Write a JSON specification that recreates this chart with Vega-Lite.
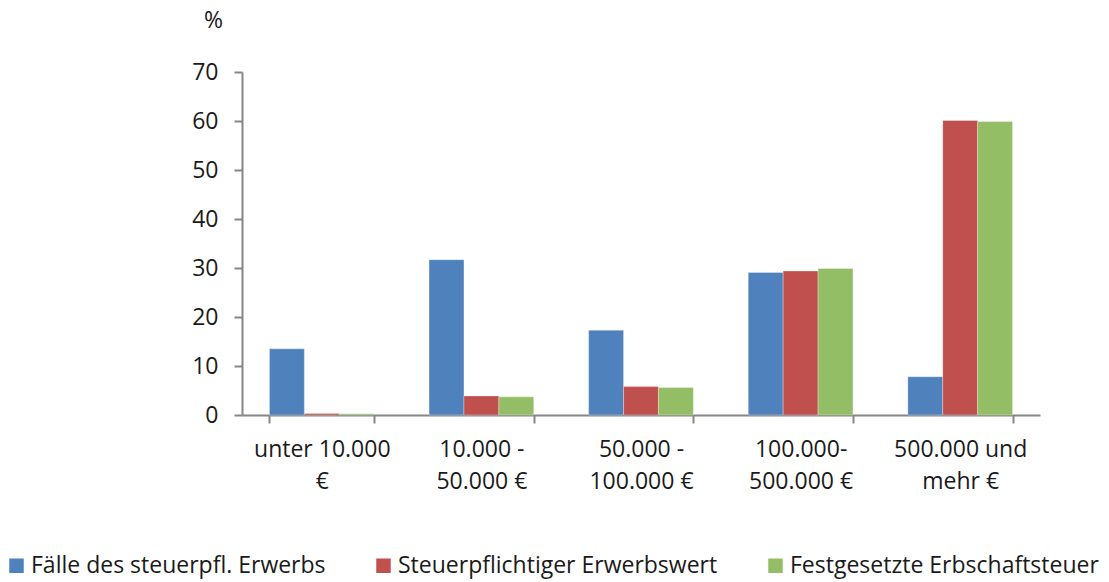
{
  "$schema": "https://vega.github.io/schema/vega-lite/v6.json",
  "autosize": {"type": "none"},
  "width": 798,
  "height": 343,
  "padding": {"left": 242, "top": 72, "right": 69, "bottom": 167},
  "background": "white",
  "config": {
    "view": {"stroke": null},
    "font": "Open Sans",
    "axis": {"grid": false, "labelFont": "Open Sans", "titleFont": "Open Sans", "labelColor": "#1a1a1a", "titleColor": "#1a1a1a"}
  },
  "data": {
    "values": [
      {"kategorie": "unter 10.000\n€", "serie": "Fälle des steuerpfl. Erwerbs", "wert": 13.5},
      {"kategorie": "unter 10.000\n€", "serie": "Steuerpflichtiger Erwerbswert", "wert": 0.3},
      {"kategorie": "unter 10.000\n€", "serie": "Festgesetzte Erbschaftsteuer", "wert": 0.25},
      {"kategorie": "10.000 -\n50.000 €", "serie": "Fälle des steuerpfl. Erwerbs", "wert": 31.7},
      {"kategorie": "10.000 -\n50.000 €", "serie": "Steuerpflichtiger Erwerbswert", "wert": 3.9},
      {"kategorie": "10.000 -\n50.000 €", "serie": "Festgesetzte Erbschaftsteuer", "wert": 3.7},
      {"kategorie": "50.000 -\n100.000 €", "serie": "Fälle des steuerpfl. Erwerbs", "wert": 17.3},
      {"kategorie": "50.000 -\n100.000 €", "serie": "Steuerpflichtiger Erwerbswert", "wert": 5.8},
      {"kategorie": "50.000 -\n100.000 €", "serie": "Festgesetzte Erbschaftsteuer", "wert": 5.6},
      {"kategorie": "100.000-\n500.000 €", "serie": "Fälle des steuerpfl. Erwerbs", "wert": 29.1},
      {"kategorie": "100.000-\n500.000 €", "serie": "Steuerpflichtiger Erwerbswert", "wert": 29.4},
      {"kategorie": "100.000-\n500.000 €", "serie": "Festgesetzte Erbschaftsteuer", "wert": 29.9},
      {"kategorie": "500.000 und\nmehr €", "serie": "Fälle des steuerpfl. Erwerbs", "wert": 7.8},
      {"kategorie": "500.000 und\nmehr €", "serie": "Steuerpflichtiger Erwerbswert", "wert": 60.1},
      {"kategorie": "500.000 und\nmehr €", "serie": "Festgesetzte Erbschaftsteuer", "wert": 59.9}
    ]
  },
  "mark": {"type": "bar", "stroke": "white", "strokeWidth": 0.5, "strokeOpacity": 0.6},
  "encoding": {
    "x": {
      "field": "kategorie",
      "type": "nominal",
      "sort": null,
      "scale": {"paddingInner": 0.344, "paddingOuter": 0.172},
      "axis": {
        "title": null,
        "labelAngle": 0,
        "labelExpr": "split(datum.label, '\\n')",
        "labelFontSize": 23,
        "labelLineHeight": 32,
        "labelPadding": 15,
        "labelBaseline": "top",
        "tickBand": "extent",
        "tickSize": 8,
        "tickWidth": 2,
        "tickColor": "#868686",
        "domainColor": "#868686",
        "domainWidth": 2,
        "labelLimit": 200
      }
    },
    "xOffset": {
      "field": "serie",
      "type": "nominal",
      "sort": ["Fälle des steuerpfl. Erwerbs", "Steuerpflichtiger Erwerbswert", "Festgesetzte Erbschaftsteuer"],
      "scale": {"paddingInner": 0, "paddingOuter": 0}
    },
    "y": {
      "field": "wert",
      "type": "quantitative",
      "scale": {"domain": [0, 70], "nice": false},
      "axis": {
        "values": [0, 10, 20, 30, 40, 50, 60, 70],
        "title": "%",
        "titleAngle": 0,
        "titleFontSize": 23,
        "titleFontWeight": "normal",
        "titleX": -29,
        "titleY": -52,
        "titleAlign": "center",
        "titleBaseline": "middle",
        "labelFontSize": 23,
        "labelPadding": 16,
        "tickSize": 8,
        "tickWidth": 2,
        "tickColor": "#868686",
        "domainColor": "#868686",
        "domainWidth": 2
      }
    },
    "color": {
      "field": "serie",
      "type": "nominal",
      "sort": ["Fälle des steuerpfl. Erwerbs", "Steuerpflichtiger Erwerbswert", "Festgesetzte Erbschaftsteuer"],
      "scale": {"range": ["#4F81BD", "#C0504D", "#94BE66"]},
      "legend": {
        "title": null,
        "orient": "none",
        "legendX": -237,
        "legendY": 482,
        "direction": "horizontal",
        "columns": 3,
        "symbolType": "square",
        "symbolSize": 210,
        "symbolStrokeWidth": 0,
        "labelFontSize": 23,
        "labelFont": "Open Sans",
        "labelColor": "#1a1a1a",
        "labelLimit": 400,
        "columnPadding": 46,
        "labelOffset": 3
      }
    }
  }
}
